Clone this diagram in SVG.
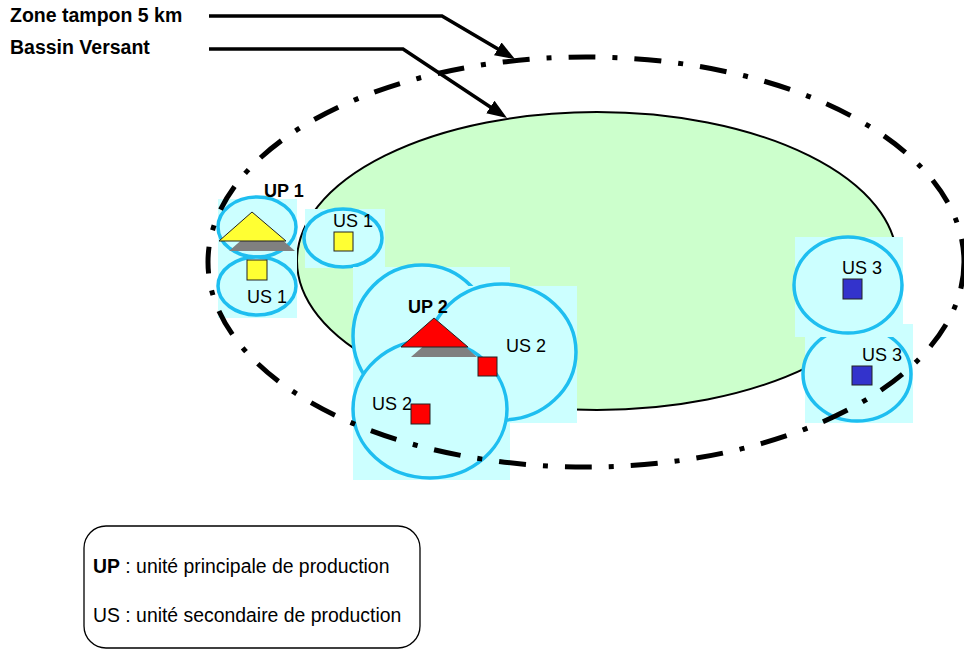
<svg xmlns="http://www.w3.org/2000/svg" width="964" height="650" viewBox="0 0 964 650">
<style>
.t{font-family:"Liberation Sans",Arial,sans-serif;fill:#000}
.lb{font-size:18px}
.zone{fill:#CCFFFF;stroke:none}
.buf{fill:#CCFFFF;stroke:#1EBEF0;stroke-width:3.5}
.sq{stroke:#222;stroke-width:1}
.lead{fill:none;stroke:#000;stroke-width:3.5}
</style>
<defs>
<marker id="ah" markerUnits="userSpaceOnUse" markerWidth="20" markerHeight="16" refX="14" refY="7.5" orient="auto">
<path d="M0,0 L20,7.5 L0,15 z" fill="#000"/>
</marker>
</defs>
<rect width="964" height="650" fill="#fff"/>
<g id="bassin">
<ellipse cx="597" cy="261" rx="300" ry="149" fill="#CCFFCC" stroke="#000" stroke-width="2"/>
</g>
<g id="us3b">
<rect class="zone" x="805" y="324" width="108" height="99"/>
<ellipse class="buf" cx="857" cy="374" rx="54" ry="47"/>
<rect class="sq" x="852" y="366" width="20" height="19" fill="#3333CC"/>
<text class="t lb" x="862" y="361">US 3</text>
</g>
<g id="us3a">
<rect class="zone" x="795" y="237" width="108" height="100"/>
<ellipse class="buf" cx="848" cy="285" rx="54" ry="48"/>
<rect class="sq" x="843" y="279" width="19" height="20" fill="#3333CC"/>
<text class="t lb" x="842" y="274">US 3</text>
</g>
<g id="us1b">
<rect class="zone" x="305" y="209" width="80" height="59"/>
<ellipse class="buf" cx="343" cy="238" rx="39" ry="29"/>
<rect class="sq" x="334" y="232" width="19" height="19" fill="#FFFF33"/>
<text class="t lb" x="333" y="227">US 1</text>
</g>
<g id="up1">
<rect class="zone" x="218" y="199" width="79" height="119"/>
<ellipse class="buf" cx="257" cy="227" rx="39" ry="30"/>
<ellipse class="buf" cx="257" cy="286" rx="39" ry="29"/>
<polygon points="262,222 229,251 295,251" fill="#808080"/>
<polygon points="252,212 219,241 286,241" fill="#FFFF33" stroke="#222" stroke-width="1"/>
<rect class="sq" x="247" y="260" width="20" height="20" fill="#FFFF33"/>
<text class="t lb" x="247" y="303">US 1</text>
<text class="t lb" x="264" y="197" font-weight="bold">UP 1</text>
</g>
<g id="up2">
<rect class="zone" x="353" y="267" width="157" height="213"/>
<ellipse class="buf" cx="422" cy="336" rx="69" ry="71"/>
<rect class="zone" x="430" y="286" width="147" height="137"/>
<ellipse class="buf" cx="502" cy="352" rx="74" ry="68"/>
<ellipse class="buf" cx="430" cy="409" rx="77" ry="69"/>
<text class="t lb" x="506" y="352">US 2</text>
<text class="t lb" x="372" y="410">US 2</text>
<polygon points="444,328 411,357 477,357" fill="#808080"/>
<polygon points="434,318 401,347 468,347" fill="#FF0000" stroke="#222" stroke-width="1"/>
<rect class="sq" x="478" y="357" width="19" height="19" fill="#FF0000"/>
<rect class="sq" x="411" y="404" width="19" height="20" fill="#FF0000"/>
<text class="t lb" x="408" y="313" font-weight="bold">UP 2</text>
</g>
<g id="zone-tampon">
<ellipse cx="586" cy="262" rx="378" ry="205" fill="none" stroke="#000" stroke-width="5" stroke-dasharray="27 17 5 17"/>
</g>
<g id="connectors">
<polyline class="lead" points="209,16 442,16 509.8,56" marker-end="url(#ah)"/>
<polyline class="lead" points="209,49 403,49 502,114.7" marker-end="url(#ah)"/>
</g>
<g id="labels">
<text class="t" x="10" y="22" font-size="19.5" font-weight="bold">Zone tampon 5 km</text>
<text class="t" x="10" y="54" font-size="19.5" font-weight="bold">Bassin Versant</text>
</g>
<g id="legend">
<rect x="84" y="526" width="336" height="122" rx="22" fill="#fff" stroke="#000" stroke-width="1.3"/>
<text class="t" x="93" y="573" font-size="19.4"><tspan font-weight="bold">UP</tspan> : unité principale de production</text>
<text class="t" x="93" y="622" font-size="19.4">US : unité secondaire de production</text>
</g>
</svg>
